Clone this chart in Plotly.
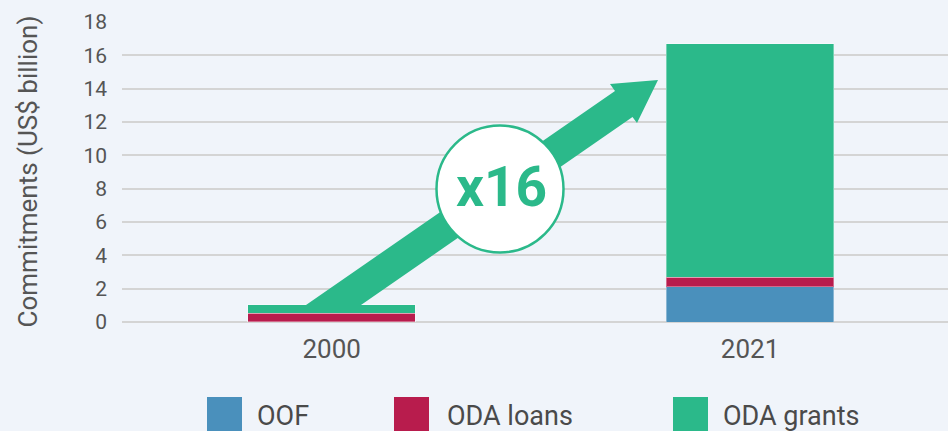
import plotly.graph_objects as go

# ---- data ----
years = ["2000", "2021"]
oof = [0.03, 2.12]
oda_loans = [0.49, 0.56]
oda_grants = [0.50, 14.0]
series_names = ["OOF", "ODA loans", "ODA grants"]
series_colors = ["#4A90BC", "#B81C4D", "#2BB98A"]
y_ticks = [0, 2, 4, 6, 8, 10, 12, 14, 16, 18]

W, H = 948, 431
L, R, T, B = 122, 0, 21, 109
PW = W - L - R
PH = H - T - B
BG = "#F0F4FA"
GREEN = "#2BB98A"


def px(x):
    return (x - L) / PW


def py(y):
    return (H - B - y) / PH


fig = go.Figure()
for name, vals, col in zip(series_names, [oof, oda_loans, oda_grants], series_colors):
    fig.add_trace(go.Bar(
        x=years, y=vals, name=name, marker_color=col,
        marker_line=dict(color="rgba(255,255,255,0.35)", width=1),
        width=0.4, showlegend=False,
    ))

shapes = []
# growth arrow
pts = [(306, 305), (615, 91), (610, 84), (658, 80), (637, 123), (632.5, 117), (361, 305)]
path = "M " + " L ".join(f"{px(a):.5f},{py(b):.5f}" for a, b in pts) + " Z"
shapes.append(dict(type="path", xref="paper", yref="paper", path=path,
                   fillcolor=GREEN, line=dict(width=0), layer="above"))
# circle
cx, cy, r = 500, 189, 63.5
shapes.append(dict(type="circle", xref="paper", yref="paper",
                   x0=px(cx - r), x1=px(cx + r), y0=py(cy + r), y1=py(cy - r),
                   fillcolor="white", line=dict(color=GREEN, width=2.5), layer="above"))

annotations = [dict(x=px(501), y=py(187), xref="paper", yref="paper",
                    text="<b>x16</b>", showarrow=False,
                    font=dict(family="Roboto", size=55, color=GREEN),
                    xanchor="center", yanchor="middle")]

# manual legend
leg_sq_x = [207, 394, 673]
leg_tx_x = [255, 445, 721]
for name, col, sx, tx in zip(series_names, series_colors, leg_sq_x, leg_tx_x):
    shapes.append(dict(type="rect", xref="paper", yref="paper",
                       x0=px(sx), x1=px(sx + 35), y0=py(445), y1=py(397),
                       fillcolor=col, line=dict(width=0)))
    annotations.append(dict(x=px(tx), y=py(416), xref="paper", yref="paper",
                            text=name, showarrow=False, xanchor="left", yanchor="middle",
                            font=dict(family="Roboto", size=27, color="#4A4A4A")))

fig.update_layout(
    width=W, height=H,
    margin=dict(l=L, r=R, t=T, b=B, pad=0),
    barmode="stack",
    paper_bgcolor=BG, plot_bgcolor=BG,
    font=dict(family="Roboto", color="#555555"),
    shapes=shapes, annotations=annotations,
    xaxis=dict(type="category", range=[-0.501, 1.473], showgrid=False,
               showline=False, ticks="", tickfont=dict(size=26, color="#555555"),
               ticklabelstandoff=9),
    yaxis=dict(range=[0, 18.05], tickvals=y_ticks, showgrid=True,
               gridcolor="#D4D4D4", gridwidth=1.5, zeroline=True,
               zerolinecolor="#D4D4D4", zerolinewidth=1.5, showline=False,
               ticks="", tickfont=dict(size=21, color="#555555"),
               ticklabelstandoff=14,
               title=dict(text="Commitments (US$ billion)", standoff=38,
                          font=dict(size=26, color="#555555"))),
)

fig.write_html("out.html", config={"displayModeBar": False},
               post_script="document.body.style.margin='0';document.body.style.background='%s';" % BG)
